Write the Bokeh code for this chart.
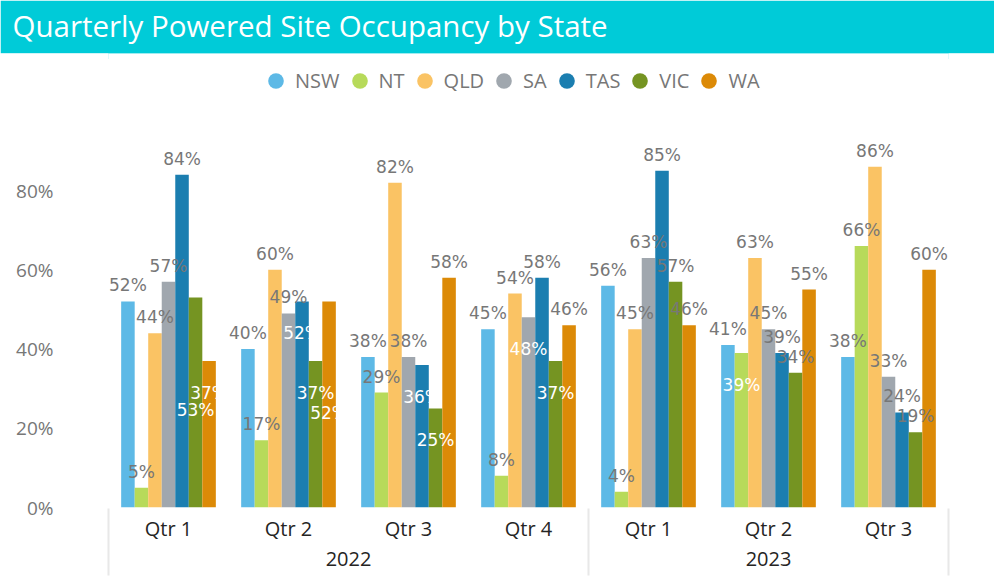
from bokeh.plotting import figure
from bokeh.models import (ColumnDataSource, FactorRange, Range1d, FixedTicker,
                          PrintfTickFormatter, Legend, LegendItem, LinearAxis)
from bokeh.transform import dodge
from bokeh.layouts import column
from bokeh.core.properties import value
from bokeh.embed import file_html
from bokeh.resources import INLINE

title_text = "Quarterly Powered Site Occupancy by State"
years = ["2022", "2022", "2022", "2022", "2023", "2023", "2023"]
quarters = ["Qtr 1", "Qtr 2", "Qtr 3", "Qtr 4", "Qtr 1", "Qtr 2", "Qtr 3"]
states = ["NSW", "NT", "QLD", "SA", "TAS", "VIC", "WA"]

nsw = [52, 40, 38, 45, 56, 41, 38]
nt = [5, 17, 29, 8, 4, 39, 66]
qld = [44, 60, 82, 54, 45, 63, 86]
sa = [57, 49, 38, 48, 63, 45, 33]
tas = [84, 52, 36, 58, 85, 39, 24]
vic = [53, 37, 25, 37, 57, 34, 19]
wa = [37, 52, 58, 46, 46, 55, 60]

# data label placement: o = above the bar, i = inside end, l = inside, pushed lower
nsw_lab = ["o", "o", "o", "o", "o", "o", "o"]
nt_lab = ["o", "o", "o", "o", "o", "i", "o"]
qld_lab = ["o", "o", "o", "o", "o", "o", "o"]
sa_lab = ["o", "o", "o", "i", "o", "o", "o"]
tas_lab = ["o", "i", "i", "o", "o", "o", "o"]
vic_lab = ["l", "i", "i", "i", "o", "o", "o"]
wa_lab = ["i", "l", "o", "o", "o", "o", "o"]

y_ticks = [0, 20, 40, 60, 80]
y_max = 114.6  # headroom above the bars, where the legend sits

colors = ["#5DB9E6", "#B7DA5A", "#FAC364", "#A0A7AE", "#1B7EB0", "#759422", "#DC8A07"]
series = [nsw, nt, qld, sa, tas, vic, wa]
placements = [nsw_lab, nt_lab, qld_lab, sa_lab, tas_lab, vic_lab, wa_lab]

CYAN = "#00CBD8"
GRAY = "#777777"
DARK = "#252423"
offset_map = {"o": -16, "i": 32, "l": 112}
color_map = {"o": GRAY, "i": "white", "l": "white"}

factors = list(zip(years, quarters))
data = {"x": factors}
for s, vals, pl in zip(states, series, placements):
    data[s] = vals
    data[s + "_txt"] = ["%d%%" % v for v in vals]
    data[s + "_off"] = [offset_map[k] for k in pl]
    data[s + "_col"] = [color_map[k] for k in pl]
src = ColumnDataSource(data)

W = 994

# ---- title bar ----
t = figure(width=W, height=53, x_range=Range1d(0, 1), y_range=Range1d(0, 1),
           output_backend="svg", toolbar_location=None,
           min_border_top=52, min_border_bottom=0, min_border_left=0, min_border_right=0,
           x_axis_location=None, y_axis_location=None,
           background_fill_color=CYAN, border_fill_color=CYAN)
t.outline_line_color = None
t.grid.visible = False
t.title.text = title_text
t.title.align = "left"
t.title.offset = -96
t.title.standoff = 16
t.title.text_color = "white"
t.title.text_font = "Open Sans"
t.title.text_font_size = "29.5px"
t.title.text_font_style = "normal"

# ---- main chart ----
xr = FactorRange(factors=factors, range_padding=0, group_padding=0,
                 factor_padding=0, subgroup_padding=0)
p = figure(width=W, height=523, x_range=xr, y_range=Range1d(0, y_max),
           output_backend="svg", toolbar_location=None, title_location=None,
           min_border_left=108, min_border_right=46, min_border_top=0,
           min_border_bottom=69)
p.outline_line_color = None
p.xgrid.visible = False
p.ygrid.visible = False

bw = 0.1127
n = len(states)
items = []
for i, (s, c) in enumerate(zip(states, colors)):
    off = (i - (n - 1) / 2) * bw
    p.vbar(x=dodge("x", off, range=xr), top=s, width=bw, source=src,
           fill_color=c, line_color=None)
    r = p.scatter(x=dodge("x", off, range=xr), y=s, size=0, source=src,
                  fill_color=c, line_color=None)
    items.append(LegendItem(label=s, renderers=[r]))

for i, s in enumerate(states):
    off = (i - (n - 1) / 2) * bw
    p.text(x=dodge("x", off, range=xr), y=s, text=s + "_txt", y_offset=s + "_off",
           text_color=s + "_col", source=src, text_align="center",
           text_baseline="alphabetic", text_font=value("DejaVu Sans"),
           text_font_size="17px")

legend = Legend(items=items, orientation="horizontal", location=(148, 407),
                glyph_width=39, glyph_height=39, label_standoff=-6, spacing=-5,
                padding=0, margin=0, border_line_color=None, background_fill_alpha=0,
                label_text_font="Open Sans", label_text_font_size="20px",
                label_text_color=GRAY)
p.add_layout(legend)

ya = p.yaxis[0]
ya.ticker = FixedTicker(ticks=y_ticks)
ya.formatter = PrintfTickFormatter(format="%d%%")
ya.axis_line_color = None
ya.major_tick_line_color = None
ya.major_tick_out = 0
ya.major_tick_in = 0
ya.minor_tick_line_color = None
ya.major_label_standoff = 55
ya.major_label_text_font = "Open Sans"
ya.major_label_text_font_size = "19px"
ya.major_label_text_color = GRAY

xa = p.xaxis[0]
xa.axis_line_color = None
xa.major_tick_line_color = None
xa.major_tick_out = 0
xa.major_tick_in = 0
xa.minor_tick_line_color = None
xa.separator_line_color = None
xa.major_label_standoff = 7
xa.major_label_text_font = "Open Sans"
xa.major_label_text_font_size = "20px"
xa.major_label_text_color = DARK
xa.group_text_font = "Open Sans"
xa.group_text_font_size = "20px"
xa.group_text_font_style = "normal"
xa.group_text_color = DARK

# year separators: an outer axis whose ticks sit on the year boundaries
bounds = [0] + [k for k in range(1, len(years)) if years[k] != years[k - 1]] + [len(years)]
sep = LinearAxis(ticker=FixedTicker(ticks=bounds),
                 axis_line_color=None, major_tick_in=60, major_tick_out=7,
                 major_tick_line_color="#E8E8E8", major_tick_line_width=2,
                 minor_tick_line_color=None, major_label_text_color=None,
                 major_label_standoff=0, major_label_text_font_size="0px")
p.add_layout(sep, "below")

layout = column(t, p)
open("out.html", "w").write(file_html(layout, INLINE))
